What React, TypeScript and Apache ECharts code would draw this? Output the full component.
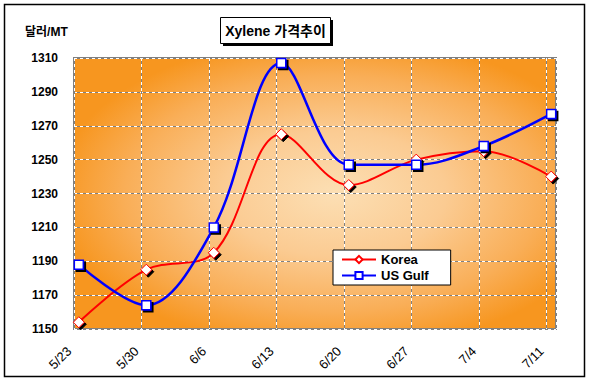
import React, { useEffect, useRef } from "react";
import * as echarts from "echarts";

const dates = ["5/23", "5/30", "6/6", "6/13", "6/20", "6/27", "7/4", "7/11"];
const korea = [1154, 1185, 1195, 1265, 1235, 1250, 1255, 1240];
const usGulf = [1188, 1164, 1210, 1307, 1247, 1247, 1258, 1277];
const yTicks = { min: 1150, max: 1310, interval: 20 };

const FONT = "'Liberation Sans', Arial, 'Noto Sans CJK KR', sans-serif";

export default function App() {
  const ref = useRef<HTMLDivElement>(null);
  useEffect(() => {
    if (!ref.current) return;
    const chart = echarts.init(ref.current, undefined, { renderer: "svg" });
    // each date sits in the middle of its day on a day-based axis
    const xOf = (i: number) => i * 7 + 0.5;
    const xMax = (dates.length - 1) * 7 + 1;
    const fmt = (v: number) => {
      const i = Math.round(v / 7);
      return Math.abs(v - i * 7) < 1e-6 && i < dates.length ? dates[i] : "";
    };
    const symShadow = {
      shadowColor: "#000",
      shadowOffsetX: 2,
      shadowOffsetY: 2,
      shadowBlur: 0,
    };
    chart.setOption({
      animation: false,
      textStyle: { fontFamily: FONT },
      grid: {
        left: 74,
        top: 58,
        right: 33,
        bottom: 56,
        show: true,
        borderColor: "#808080",
        borderWidth: 2,
        backgroundColor: new echarts.graphic.RadialGradient(0.54, 0.5, 0.58, [
          { offset: 0, color: "#FCDFB4" },
          { offset: 0.4, color: "#FBCB92" },
          { offset: 0.75, color: "#F9AE57" },
          { offset: 1, color: "#F7961F" },
        ]),
      },
      legend: {
        orient: "vertical",
        left: 333,
        top: 250,
        backgroundColor: "#fff",
        borderColor: "#000",
        borderWidth: 1,
        borderRadius: 0,
        padding: [3, 22, 3, 8],
        itemGap: 3,
        itemWidth: 34,
        itemHeight: 9,
        textStyle: { fontFamily: FONT, fontWeight: "bold", fontSize: 13, color: "#000" },
        itemStyle: { shadowColor: "rgba(0,0,0,0)", shadowOffsetX: 0, shadowOffsetY: 0 },
        data: ["Korea", "US Gulf"],
      },
      xAxis: [
        {
          type: "value",
          min: 0,
          max: xMax,
          interval: 7,
          axisLine: { show: false },
          axisTick: { show: false },
          axisLabel: {
            rotate: 45,
            margin: 15,
            padding: [0, 7, 0, 0],
            fontSize: 13,
            color: "#000",
            fontFamily: FONT,
            showMaxLabel: false,
            formatter: fmt,
          },
          splitLine: { show: true, lineStyle: { color: "#808080", width: 1, type: "solid" } },
        },
        {
          type: "value",
          min: 0,
          max: xMax,
          interval: 7,
          position: "bottom",
          axisLine: { show: false },
          axisTick: { show: false },
          axisLabel: { show: false },
          splitLine: { show: true, lineStyle: { color: "#fff", width: 1, type: [3, 3] } },
        },
      ],
      yAxis: [
        {
          type: "value",
          min: yTicks.min,
          max: yTicks.max,
          interval: yTicks.interval,
          axisLine: { show: false },
          axisTick: { show: false },
          axisLabel: {
            margin: 16,
            fontSize: 12,
            fontWeight: "bold",
            color: "#000",
            fontFamily: FONT,
            formatter: (v: number) => String(v),
          },
          splitLine: { show: true, lineStyle: { color: "#808080", width: 1, type: "solid" } },
        },
        {
          type: "value",
          min: yTicks.min,
          max: yTicks.max,
          interval: yTicks.interval,
          position: "left",
          axisLine: { show: false },
          axisTick: { show: false },
          axisLabel: { show: false },
          splitLine: { show: true, lineStyle: { color: "#fff", width: 1, type: [3, 3] } },
        },
      ],
      series: [
        {
          name: "Korea",
          type: "line",
          smooth: 0.35,
          data: korea.map((v, i) => [xOf(i), v]),
          symbol: "diamond",
          symbolSize: 11,
          lineStyle: { color: "#FF0000", width: 2 },
          itemStyle: { color: "#fff", borderColor: "#FF0000", borderWidth: 1, ...symShadow },
          z: 3,
        },
        {
          name: "US Gulf",
          type: "line",
          smooth: 0.35,
          data: usGulf.map((v, i) => [xOf(i), v]),
          symbol: "rect",
          symbolSize: 9,
          lineStyle: { color: "#0000FF", width: 2.5 },
          itemStyle: { color: "#fff", borderColor: "#0000FF", borderWidth: 1.5, ...symShadow },
          z: 4,
        },
      ],
      graphic: [
        {
          type: "rect",
          shape: { x: 4.5, y: 4.5, width: 580, height: 372 },
          style: { fill: "none", stroke: "#000", lineWidth: 1.5 },
          silent: true,
        },
        {
          type: "text",
          left: 25,
          top: 26,
          style: { text: "달러/MT", fontFamily: FONT, fontWeight: "bold", fontSize: 12, fill: "#000" },
        },
        {
          type: "rect",
          shape: { x: 223, y: 20, width: 110, height: 26 },
          style: { fill: "#000" },
        },
        {
          type: "rect",
          shape: { x: 220.5, y: 17.5, width: 110, height: 26 },
          style: { fill: "#fff", stroke: "#000", lineWidth: 1 },
        },
        {
          type: "text",
          x: 275.5,
          y: 31,
          style: {
            text: "Xylene 가격추이",
            fontFamily: FONT,
            fontWeight: "bold",
            fontSize: 14,
            fill: "#000",
            align: "center",
            verticalAlign: "middle",
          },
        },
      ],
    });
    return () => chart.dispose();
  }, []);
  return (
    <div
      ref={ref}
      style={{ position: "fixed", left: 0, top: 0, width: 589, height: 385, background: "#fff" }}
    />
  );
}
